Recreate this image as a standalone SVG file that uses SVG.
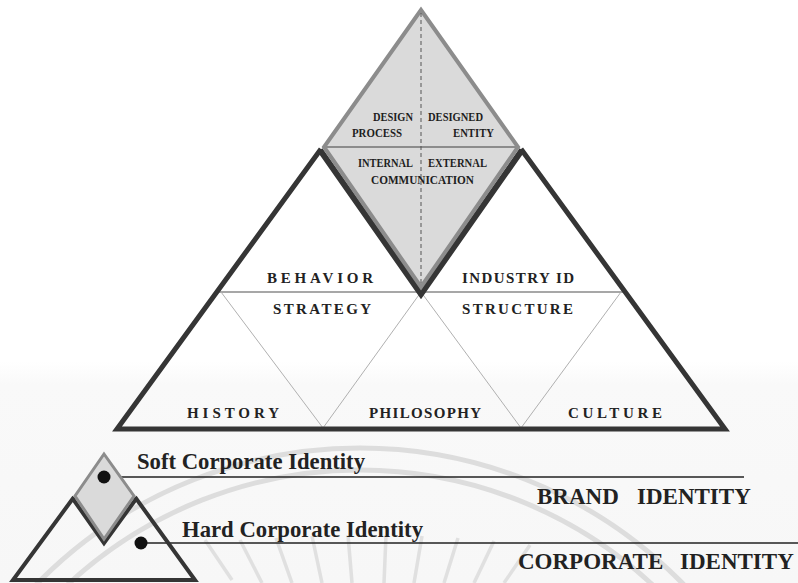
<svg xmlns="http://www.w3.org/2000/svg" width="798" height="583" viewBox="0 0 798 583">
<defs>
<linearGradient id="bg" x1="0" y1="0" x2="0" y2="1">
<stop offset="0" stop-color="#ffffff"/>
<stop offset="0.62" stop-color="#ffffff"/>
<stop offset="0.66" stop-color="#f9f9f9"/>
<stop offset="1" stop-color="#f7f7f7"/>
</linearGradient>
<style>
.dark{fill:none;stroke:#353535;stroke-width:5;stroke-linejoin:miter}
.dia{fill:#dadada;stroke:#8c8c8c;stroke-width:4;stroke-linejoin:miter}
.thin{stroke:#b0b0b0;stroke-width:1;fill:none}
.row{stroke:#8a8a8a;stroke-width:1.5}
.wm{fill:none;stroke:#dddddd;stroke-width:5}
.ray{stroke:#e0e0e0;stroke-width:3.5}
.sm{font-family:"Liberation Serif","Times New Roman",serif;font-size:12px;font-weight:bold;fill:#1e1e1e}
.lab{font-family:"Liberation Serif","Times New Roman",serif;font-size:15px;font-weight:bold;fill:#222}
.big{font-family:"Liberation Serif","Times New Roman",serif;font-size:23px;font-weight:bold;fill:#222}
.head{font-family:"Liberation Serif","Times New Roman",serif;font-size:23px;font-weight:bold;fill:#222}
.line{stroke:#222;stroke-width:1.3}
</style>
</defs>
<rect width="798" height="583" fill="url(#bg)"/>
<g id="watermark">
<circle class="wm" cx="360" cy="900" r="452"/>
<circle class="wm" cx="360" cy="900" r="430"/>
<g class="ray">
<line x1="232" y1="580" x2="205" y2="540"/>
<line x1="262" y1="583" x2="240" y2="540"/>
<line x1="292" y1="583" x2="276" y2="538"/>
<line x1="322" y1="583" x2="312" y2="536"/>
<line x1="352" y1="583" x2="348" y2="535"/>
<line x1="384" y1="583" x2="386" y2="535"/>
<line x1="414" y1="583" x2="422" y2="536"/>
<line x1="444" y1="583" x2="458" y2="538"/>
<line x1="474" y1="583" x2="494" y2="541"/>
<line x1="504" y1="583" x2="530" y2="545"/>
</g>
</g>
<g id="connectors">
<line class="row" x1="219" y1="292" x2="623" y2="292"/>
<polyline class="thin" points="221,292 323,428 421,292 521,428 621,292"/>
<line class="line" x1="104" y1="477" x2="744" y2="477"/>
<line class="line" x1="141" y1="543" x2="798" y2="543"/>
</g>
<g id="pyramid">
<polyline class="dark" points="321,149 117,429 725,429 521,149"/>
<polyline class="dark" style="stroke-width:6" points="320,150 421,294 522,150"/>
</g>
<g id="diamond">
<polygon class="dia" points="421,10 324,147 421,287 518,147"/>
<line x1="324" y1="147" x2="518" y2="147" stroke="#8c8c8c" stroke-width="2"/>
<line x1="421" y1="13" x2="421" y2="285" stroke="#555" stroke-width="1" stroke-dasharray="4,3"/>
<text class="sm" x="373" y="121" textLength="40" lengthAdjust="spacingAndGlyphs">DESIGN</text>
<text class="sm" x="352" y="137" textLength="50" lengthAdjust="spacingAndGlyphs">PROCESS</text>
<text class="sm" x="428" y="121" textLength="55" lengthAdjust="spacingAndGlyphs">DESIGNED</text>
<text class="sm" x="453" y="137" textLength="41" lengthAdjust="spacingAndGlyphs">ENTITY</text>
<text class="sm" x="358" y="167" textLength="55" lengthAdjust="spacingAndGlyphs">INTERNAL</text>
<text class="sm" x="428" y="167" textLength="59" lengthAdjust="spacingAndGlyphs">EXTERNAL</text>
<text class="sm" x="371" y="184" textLength="103" lengthAdjust="spacingAndGlyphs">COMMUNICATION</text>
</g>
<g id="behavior"><text class="lab" x="267" y="283" textLength="106" lengthAdjust="spacing">BEHAVIOR</text></g>
<g id="industry"><text class="lab" x="462" y="283" textLength="112" lengthAdjust="spacing">INDUSTRY ID</text></g>
<g id="strategy"><text class="lab" x="273" y="314" textLength="98" lengthAdjust="spacing">STRATEGY</text></g>
<g id="structure"><text class="lab" x="462" y="314" textLength="111" lengthAdjust="spacing">STRUCTURE</text></g>
<g id="history"><text class="lab" x="187" y="418" textLength="92" lengthAdjust="spacing">HISTORY</text></g>
<g id="philosophy"><text class="lab" x="369" y="418" textLength="112" lengthAdjust="spacing">PHILOSOPHY</text></g>
<g id="culture"><text class="lab" x="568" y="418" textLength="94" lengthAdjust="spacing">CULTURE</text></g>
<g id="legend-icon">
<polyline fill="none" stroke="#353535" stroke-width="4" points="74,497 13,580 195,580 135,497"/>
<polyline fill="none" stroke="#353535" stroke-width="4" points="73,499 104,543 136,499"/>
<polygon fill="#dadada" stroke="#8c8c8c" stroke-width="3" points="104,454 75,496 104,539 134,496"/>
</g>
<g id="soft">
<circle cx="104" cy="477" r="6.5" fill="#111"/>
<text class="big" x="137" y="469" textLength="228" lengthAdjust="spacingAndGlyphs">Soft Corporate Identity</text>
</g>
<g id="hard">
<circle cx="141" cy="543" r="6.5" fill="#111"/>
<text class="big" x="182" y="537" textLength="241" lengthAdjust="spacingAndGlyphs">Hard Corporate Identity</text>
</g>
<g id="brand"><text class="head" y="504"><tspan x="537">BRAND</tspan><tspan x="637">IDENTITY</tspan></text></g>
<g id="corporate"><text class="head" y="569"><tspan x="518">CORPORATE</tspan><tspan x="680">IDENTITY</tspan></text></g>
</svg>
